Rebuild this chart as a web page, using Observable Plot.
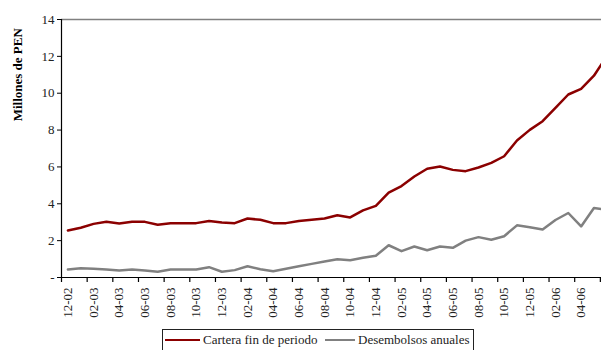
<!DOCTYPE html>
<html>
<head>
<meta charset="utf-8">
<script src="https://cdn.jsdelivr.net/npm/d3@7"></script>
<script src="https://cdn.jsdelivr.net/npm/@observablehq/plot@0.6"></script>
<style>
  html, body { margin: 0; padding: 0; background: #fff; }
  #wrap { width: 601px; height: 350px; overflow: hidden; position: relative; font-family: "Liberation Serif", "DejaVu Serif", serif; }
  #legend { position: relative; height: 24px; font-size: 13px; color: #222; }
  #legend .box { position: absolute; left: 162px; top: 3px; width: 312px; height: 30px; border: 1px solid #222; box-sizing: border-box; }
  #legend .sw { position: absolute; height: 0; border-top: 2.5px solid; top: 13px; }
  #legend .lab { position: absolute; top: 6px; line-height: 15px; white-space: nowrap; }
</style>
</head>
<body>
<div id="wrap">
  <div id="chart"></div>
  <div id="legend"></div>
</div>
<script>
const months = ["12-02","01-03","02-03","03-03","04-03","05-03","06-03","07-03","08-03","09-03","10-03","11-03",
  "12-03","01-04","02-04","03-04","04-04","05-04","06-04","07-04","08-04","09-04","10-04","11-04",
  "12-04","01-05","02-05","03-05","04-05","05-05","06-05","07-05","08-05","09-05","10-05","11-05",
  "12-05","01-06","02-06","03-06","04-06","05-06","06-06"];
const cartera = [2.55,2.70,2.91,3.02,2.93,3.02,3.02,2.86,2.95,2.95,2.95,3.07,
  2.98,2.95,3.20,3.13,2.95,2.95,3.07,3.13,3.20,3.38,3.26,3.64,
  3.89,4.60,4.96,5.48,5.90,6.02,5.84,5.77,5.97,6.22,6.58,7.43,
  8.01,8.48,9.21,9.93,10.24,10.95,12.0];
const desembolsos = [0.43,0.50,0.48,0.43,0.38,0.43,0.38,0.31,0.43,0.43,0.43,0.56,
  0.31,0.40,0.61,0.45,0.34,0.47,0.61,0.74,0.87,0.99,0.94,1.07,
  1.18,1.75,1.43,1.68,1.48,1.68,1.61,2.00,2.19,2.05,2.24,2.83,
  2.73,2.60,3.12,3.50,2.77,3.77,3.68];
const yTicks = [0,2,4,6,8,10,12,14];
const seriesNames = ["Cartera fin de periodo", "Desembolsos anuales"];
const seriesColors = ["#8b0000", "#808080"];

const rows = [];
months.forEach((m, i) => {
  rows.push({i, serie: seriesNames[0], v: cartera[i]});
  rows.push({i, serie: seriesNames[1], v: desembolsos[i]});
});
const idx = months.map((m, i) => i);
const labelIdx = idx.filter(i => i % 2 === 0);
const boundaries = d3.range(-0.5, months.length, 2);

const font = "Liberation Serif, DejaVu Serif, serif";
const chart = Plot.plot({
  width: 601,
  height: 326,
  marginLeft: 61,
  marginTop: 19,
  marginBottom: 49,
  marginRight: 0,
  style: {fontFamily: font, fontSize: "13px", color: "#222", background: "#fff", overflow: "hidden"},
  x: {domain: [-0.5, months.length - 0.5], range: [61, 61 + 12.83 * months.length]},
  y: {domain: [0, 14], range: [277, 19]},
  color: {domain: seriesNames, range: seriesColors},
  marks: [
    Plot.ruleY([14], {stroke: "#808080", strokeWidth: 1.5}),
    Plot.axisY({ticks: yTicks, tickFormat: d => d === 0 ? "-" : d, tickSize: 4, tickPadding: 3, fontSize: 13, label: null, stroke: "#000"}),
    Plot.axisX({ticks: boundaries, tickFormat: () => "", tickSize: 5, label: null, stroke: "#000", strokeWidth: 1.2}),
    Plot.ruleX([-0.5], {stroke: "#000", strokeWidth: 1.2}),
    Plot.ruleY([0], {stroke: "#000", strokeWidth: 1.2}),
    Plot.text(labelIdx, {x: d => d, y: 0, text: d => months[d], rotate: -90, textAnchor: "end", lineAnchor: "middle", dy: 10, fontSize: 13, fill: "#222"}),
    Plot.text(["Millones de PEN"], {x: -0.5, y: 11, dx: -44, rotate: -90, fontWeight: "bold", fontSize: 13, fill: "#000"}),
    Plot.line(rows, {x: "i", y: "v", z: "serie", stroke: "serie", strokeWidth: 2.5, curve: "linear"})
  ]
});
document.getElementById("chart").appendChild(chart);

const leg = document.getElementById("legend");
const box = document.createElement("div");
box.className = "box";
leg.appendChild(box);
const items = [
  {name: seriesNames[0], color: seriesColors[0], x0: 165, x1: 200, tx: 203},
  {name: seriesNames[1], color: seriesColors[1], x0: 325, x1: 355, tx: 358}
];
items.forEach(it => {
  const sw = document.createElement("div");
  sw.className = "sw";
  sw.style.left = it.x0 + "px";
  sw.style.width = (it.x1 - it.x0) + "px";
  sw.style.borderTopColor = it.color;
  leg.appendChild(sw);
  const lab = document.createElement("div");
  lab.className = "lab";
  lab.style.left = it.tx + "px";
  lab.textContent = it.name;
  leg.appendChild(lab);
});
</script>
</body>
</html>
